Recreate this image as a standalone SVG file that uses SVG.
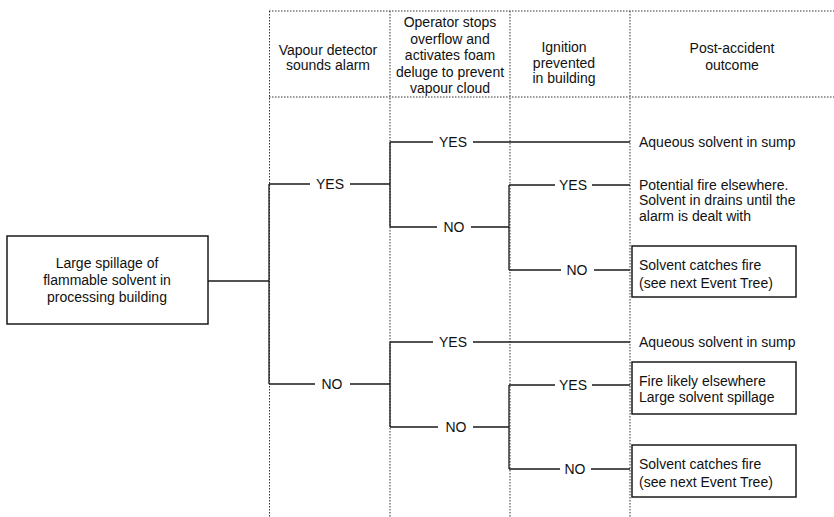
<svg xmlns="http://www.w3.org/2000/svg" width="834" height="517" viewBox="0 0 834 517">
  <style>
    text { font-family: "Liberation Sans", Arial, sans-serif; font-size: 14px; fill: #111; }
    .c { text-anchor: middle; }
    .grid { stroke: #333; stroke-width: 1; stroke-dasharray: 1.5 1.5; fill: none; }
    .wire { stroke: #1a1a1a; stroke-width: 1.3; fill: none; }
    .box { fill: #fff; stroke: #1a1a1a; stroke-width: 1.5; }
  </style>

  <!-- column grid -->
  <g id="grid">
    <line class="grid" x1="269" y1="11" x2="834" y2="11"/>
    <line class="grid" x1="269" y1="97" x2="834" y2="97"/>
    <line class="grid" x1="269.5" y1="11" x2="269.5" y2="517"/>
    <line class="grid" x1="390" y1="11" x2="390" y2="517"/>
    <line class="grid" x1="510" y1="11" x2="510" y2="517"/>
    <line class="grid" x1="630" y1="11" x2="630" y2="517"/>
  </g>

  <!-- column headings -->
  <g id="headings">
    <text class="c" x="328" y="55">Vapour detector</text>
    <text class="c" x="328" y="70">sounds alarm</text>
    <text class="c" x="450" y="27">Operator stops</text>
    <text class="c" x="450" y="43.5">overflow and</text>
    <text class="c" x="450" y="60">activates foam</text>
    <text class="c" x="450" y="76.5">deluge to prevent</text>
    <text class="c" x="450" y="93">vapour cloud</text>
    <text class="c" x="564" y="52">Ignition</text>
    <text class="c" x="564" y="67.5">prevented</text>
    <text class="c" x="564" y="83">in building</text>
    <text class="c" x="732" y="53">Post-accident</text>
    <text class="c" x="732" y="70">outcome</text>
  </g>

  <!-- initiating event -->
  <g id="initiating-event">
    <rect class="box" x="7" y="236" width="201" height="88"/>
    <text class="c" x="107" y="268">Large spillage of</text>
    <text class="c" x="107" y="285">flammable solvent in</text>
    <text class="c" x="107" y="302">processing building</text>
  </g>

  <!-- branches -->
  <g id="connectors">
    <line class="wire" x1="208" y1="281" x2="269" y2="281"/>
    <!-- detector split -->
    <line class="wire" x1="269" y1="184" x2="269" y2="384"/>
    <path class="wire" d="M269 184 H310 M350 184 H390"/>
    <path class="wire" d="M269 384 H315 M350 384 H390"/>
    <!-- operator split, alarm raised -->
    <line class="wire" x1="390" y1="142" x2="390" y2="227"/>
    <path class="wire" d="M390 142 H433 M473 142 H630"/>
    <path class="wire" d="M390 227 H437 M471 227 H509"/>
    <!-- operator split, no alarm -->
    <line class="wire" x1="390" y1="342" x2="390" y2="427"/>
    <path class="wire" d="M390 342 H433 M473 342 H630"/>
    <path class="wire" d="M390 427 H438 M473 427 H509"/>
    <!-- ignition split, alarm raised -->
    <line class="wire" x1="509" y1="185" x2="509" y2="270"/>
    <path class="wire" d="M509 185 H555 M592 185 H630"/>
    <path class="wire" d="M509 270 H561 M594 270 H630"/>
    <!-- ignition split, no alarm -->
    <line class="wire" x1="509" y1="385" x2="509" y2="469"/>
    <path class="wire" d="M509 385 H555 M592 385 H630"/>
    <path class="wire" d="M509 469 H560 M591 469 H630"/>
  </g>

  <!-- branch labels -->
  <g id="labels">
    <text class="c" x="330" y="189">YES</text>
    <text class="c" x="332" y="389">NO</text>
    <text class="c" x="453" y="147">YES</text>
    <text class="c" x="454" y="232">NO</text>
    <text class="c" x="453" y="347">YES</text>
    <text class="c" x="456" y="432">NO</text>
    <text class="c" x="573" y="190">YES</text>
    <text class="c" x="577" y="275">NO</text>
    <text class="c" x="573" y="390">YES</text>
    <text class="c" x="575" y="474">NO</text>
  </g>

  <!-- outcomes -->
  <g id="outcome-1">
    <text x="639" y="147">Aqueous solvent in sump</text>
  </g>
  <g id="outcome-2">
    <text x="639" y="190">Potential fire elsewhere.</text>
    <text x="639" y="205">Solvent in drains until the</text>
    <text x="639" y="221">alarm is dealt with</text>
  </g>
  <g id="outcome-3">
    <rect class="box" x="632" y="246" width="164" height="51"/>
    <text x="639" y="270">Solvent catches fire</text>
    <text x="639" y="288">(see next Event Tree)</text>
  </g>
  <g id="outcome-4">
    <text x="639" y="347">Aqueous solvent in sump</text>
  </g>
  <g id="outcome-5">
    <rect class="box" x="632" y="362" width="164" height="52"/>
    <text x="639" y="386">Fire likely elsewhere</text>
    <text x="639" y="402">Large solvent spillage</text>
  </g>
  <g id="outcome-6">
    <rect class="box" x="632" y="445" width="164" height="52"/>
    <text x="639" y="469">Solvent catches fire</text>
    <text x="639" y="487">(see next Event Tree)</text>
  </g>
</svg>
